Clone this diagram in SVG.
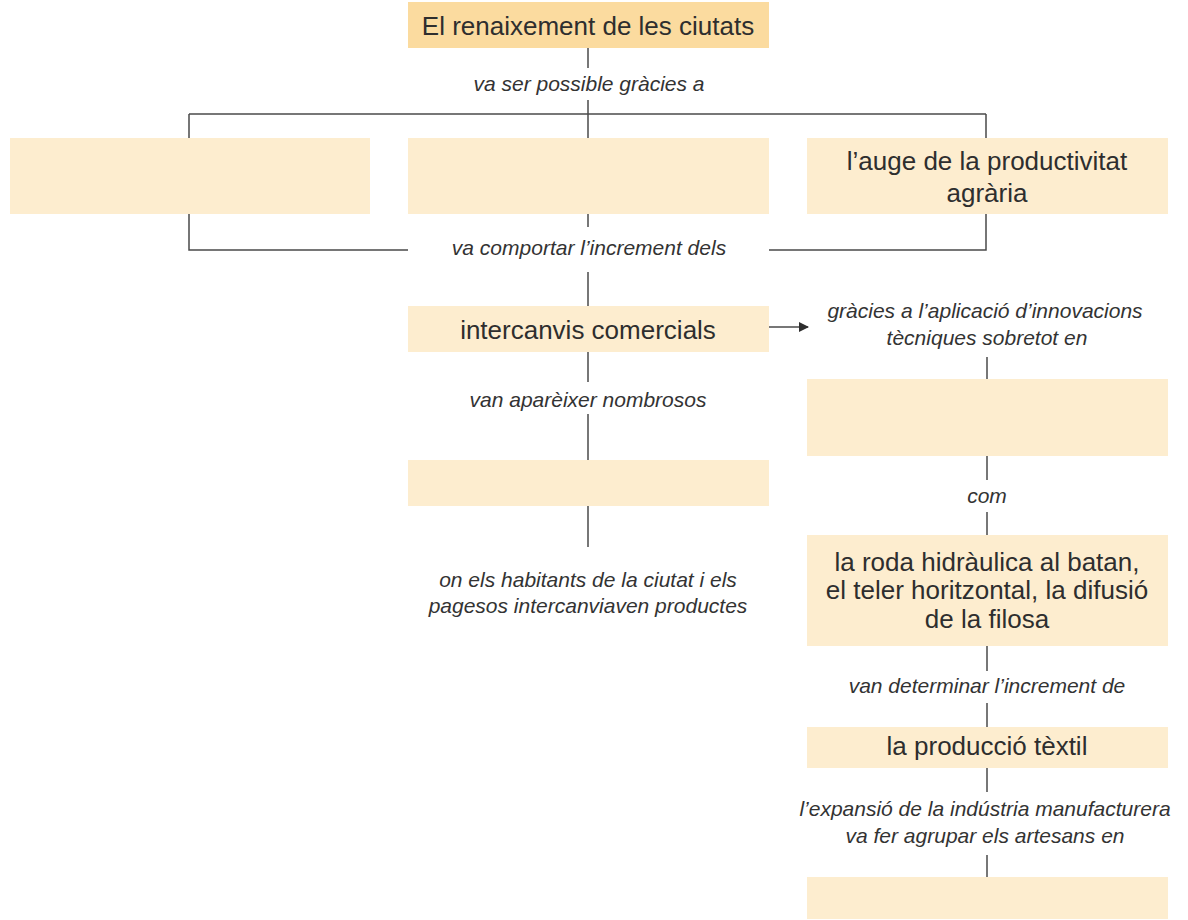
<svg xmlns="http://www.w3.org/2000/svg" width="1188" height="920" viewBox="0 0 1188 920">
<style>
.bx{fill:#fdedcf}
.bxd{fill:#fbdb9f}
.t{font-family:"Liberation Sans",Arial,sans-serif;font-size:26px;fill:#2e2e2e;text-anchor:middle}
.l{font-family:"Liberation Sans",Arial,sans-serif;font-size:21px;font-style:italic;fill:#333;text-anchor:middle}
.c{stroke:#4a4a4a;stroke-width:1.5;fill:none}
</style>
<defs>
<marker id="ah" markerWidth="10" markerHeight="10" refX="9" refY="5" orient="auto" markerUnits="userSpaceOnUse">
<path d="M0,0 L10,5 L0,10 Z" fill="#2e2e2e"/>
</marker>
</defs>
<rect width="1188" height="920" fill="#fff"/>
<g id="connectors">
<path class="c" d="M588 48 V68"/>
<path class="c" d="M588 100 V227"/>
<path class="c" d="M189 114 H986"/>
<path class="c" d="M189 114 V250 H408"/>
<path class="c" d="M986 114 V250 H769"/>
<path class="c" d="M588 272 V306"/>
<path class="c" d="M588 352 V382"/>
<path class="c" d="M588 414 V460"/>
<path class="c" d="M588 506 V547"/>
<path class="c" d="M769 327 H808" marker-end="url(#ah)"/>
<path class="c" d="M987 357 V379"/>
<path class="c" d="M987 456 V480"/>
<path class="c" d="M987 512 V535"/>
<path class="c" d="M987 646 V671"/>
<path class="c" d="M987 703 V727"/>
<path class="c" d="M987 768 V792"/>
<path class="c" d="M987 855 V877"/>
</g>
<g id="n-renaixement"><rect class="bxd" x="408" y="2" width="361" height="46"/><text class="t" x="588" y="35">El renaixement de les ciutats</text></g>
<g id="l-possible"><text class="l" x="589" y="91">va ser possible gràcies a</text></g>
<g id="n-blank1"><rect class="bx" x="10" y="138" width="360" height="76"/></g>
<g id="n-blank2"><rect class="bx" x="408" y="138" width="361" height="76"/></g>
<g id="n-auge"><rect class="bx" x="807" y="138" width="361" height="76"/><text class="t" x="987" y="170">l’auge de la productivitat</text><text class="t" x="987" y="202">agrària</text></g>
<g id="l-comportar"><text class="l" x="589" y="255">va comportar l’increment dels</text></g>
<g id="n-intercanvis"><rect class="bx" x="408" y="306" width="361" height="46"/><text class="t" x="588" y="339">intercanvis comercials</text></g>
<g id="l-gracies"><text class="l" x="985" y="318">gràcies a l’aplicació d’innovacions</text><text class="l" x="987" y="345">tècniques sobretot en</text></g>
<g id="l-apareixer"><text class="l" x="588" y="407">van aparèixer nombrosos</text></g>
<g id="n-blank3"><rect class="bx" x="408" y="460" width="361" height="46"/></g>
<g id="l-habitants"><text class="l" x="588" y="587">on els habitants de la ciutat i els</text><text class="l" x="588" y="613">pagesos intercanviaven productes</text></g>
<g id="n-blank4"><rect class="bx" x="807" y="379" width="361" height="77"/></g>
<g id="l-com"><text class="l" x="987" y="503">com</text></g>
<g id="n-roda"><rect class="bx" x="807" y="535" width="361" height="111"/><text class="t" x="987" y="571">la roda hidràulica al batan,</text><text class="t" x="987" y="599">el teler horitzontal, la difusió</text><text class="t" x="987" y="628">de la filosa</text></g>
<g id="l-determinar"><text class="l" x="987" y="693">van determinar l’increment de</text></g>
<g id="n-textil"><rect class="bx" x="807" y="727" width="361" height="41"/><text class="t" x="987" y="755">la producció tèxtil</text></g>
<g id="l-expansio"><text class="l" x="985" y="816">l’expansió de la indústria manufacturera</text><text class="l" x="985" y="843">va fer agrupar els artesans en</text></g>
<g id="n-blank5"><rect class="bx" x="807" y="877" width="361" height="42"/></g>
</svg>
